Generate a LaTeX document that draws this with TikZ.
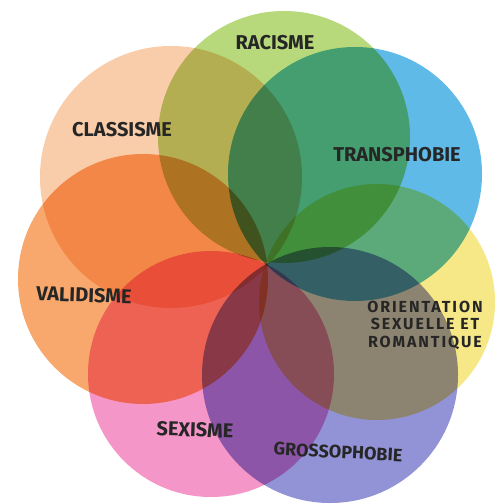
\documentclass[tikz,border=0pt]{standalone}
\usepackage{fontspec}
\newfontfamily\handfont{Fira Sans}
\newfontfamily\handwide{Fira Sans}[LetterSpace=12.0]
\definecolor{racisme}{RGB}{183,217,124}
\definecolor{transphobie}{RGB}{96,186,232}
\definecolor{orientation}{RGB}{246,232,134}
\definecolor{grossophobie}{RGB}{146,146,214}
\definecolor{sexisme}{RGB}{245,150,200}
\definecolor{validisme}{RGB}{248,168,108}
\definecolor{classisme}{RGB}{250,205,170}
\tikzstyle{zone}=[circle, draw=none, inner sep=0pt]
\tikzstyle{oppression}=[font=\handfont\bfseries\fontsize{20bp}{24bp}\selectfont,
                       text=black!85, inner sep=1pt]
\tikzstyle{smalloppression}=[font=\handwide\bfseries\fontsize{16bp}{17.5bp}\selectfont,
                            text=black!85, inner sep=1pt, align=center]

\begin{document}
\begin{tikzpicture}[x=1bp, y=-1bp]
  \useasboundingbox (0,0) rectangle (497,504);
  \fill[white] (0,0) rectangle (497,504);
  % Place the circles, one for each oppression
  \begin{scope}[blend mode=multiply]
  \foreach \place/\name/\size in {{(284,137)/racisme/252}, {(355,174)/transphobie/254},
           {(377,302)/orientation/236}, {(330,375)/grossophobie/256},
           {(211,374)/sexisme/246}, {(143,279)/validisme/250},
           {(171,177)/classisme/262}}
    \node[zone, fill=\name, minimum size=\size bp] (\name) at \place {};
  \end{scope}
  %
  % Labels
  \node[oppression] (lracisme) at (275,43) {RACISME};
  \node[oppression] (lclassisme) at (122,130) {CLASSISME};
  \node[oppression] (ltransphobie) at (397,155) {TRANSPHOBIE};
  \node[oppression, rotate=-2] (lvalidisme) at (84,295) {VALIDISME};
  \node[smalloppression] (lorientation) at (425,325)
       {ORIENTATION\\SEXUELLE ET\\ROMANTIQUE};
  \node[oppression, rotate=-2] (lsexisme) at (195,430) {SEXISME};
  \node[oppression, rotate=-3, font=\handfont\bfseries\fontsize{18bp}{22bp}\selectfont]
       (lgrossophobie) at (338,452) {GROSSOPHOBIE};
\end{tikzpicture}
\end{document}
